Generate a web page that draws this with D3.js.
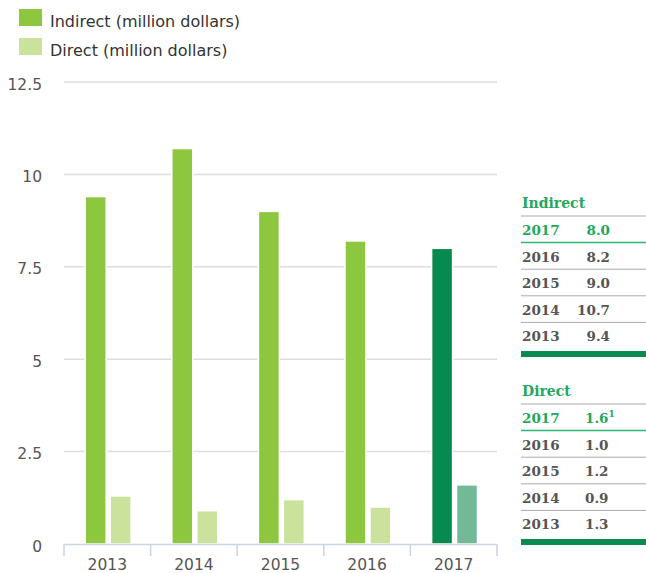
<!DOCTYPE html>
<html><head><meta charset="utf-8">
<script src="https://cdn.jsdelivr.net/npm/d3@7"></script>
<style>body{margin:0;background:#fff}svg{display:block}</style>
</head><body>
<svg id="c" width="646" height="573"></svg>
<script>
const years = ["2013","2014","2015","2016","2017"];
const indirect = [9.4, 10.7, 9.0, 8.2, 8.0];
const direct = [1.3, 0.9, 1.2, 1.0, 1.6];
const yTicks = [0, 2.5, 5, 7.5, 10, 12.5];
const seriesNames = ["Indirect (million dollars)", "Direct (million dollars)"];
const tableTitles = ["Indirect", "Direct"];

const svg = d3.select("#c");
const sans = "'DejaVu Sans', sans-serif";
const serif = "'DejaVu Serif', serif";
const cInd = "#8dc63f", cDir = "#cbe29d", cInd17 = "#078a4f", cDir17 = "#72b998";
const green = "#22a85d";

const x = d3.scaleBand().domain(years).range([64, 497]);
const bw = x.bandwidth();
const xs = d3.scaleBand().domain(["i","d"]).range([0.245*bw, 0.775*bw]).paddingInner(0.16);
const y = d3.scaleLinear().domain([0, 12.5]).range([544, 82]);

// gridlines
svg.append("g").selectAll("line").data(yTicks.filter(d=>d>0)).join("line")
  .attr("x1", 64).attr("x2", 497).attr("y1", d=>y(d)).attr("y2", d=>y(d))
  .attr("stroke", "#dddddd").attr("stroke-width", 1.5);

// y labels
svg.append("g").selectAll("text").data(yTicks).join("text")
  .attr("x", 42).attr("y", d=>y(d)+7.5).attr("text-anchor","end")
  .attr("font-family", sans).attr("font-size", 15.5).attr("fill","#555")
  .text(d=>d3.format("~g")(d));

// bars
const g = svg.append("g");
years.forEach((yr,i)=>{
  const last = i === years.length-1;
  g.append("rect").attr("x", x(yr)+xs("i")).attr("width", xs.bandwidth())
    .attr("y", y(indirect[i])).attr("height", y(0)-y(indirect[i]))
    .attr("fill", last?cInd17:cInd).attr("stroke","#fff").attr("stroke-width",1.5);
  g.append("rect").attr("x", x(yr)+xs("d")).attr("width", xs.bandwidth())
    .attr("y", y(direct[i])).attr("height", y(0)-y(direct[i]))
    .attr("fill", last?cDir17:cDir).attr("stroke","#fff").attr("stroke-width",1.5);
});

// x axis
const ax = svg.append("g");
ax.append("line").attr("x1",64).attr("x2",497).attr("y1",544.5).attr("y2",544.5)
  .attr("stroke","#c9d5e2").attr("stroke-width",1.5);
const bounds = years.map(d=>x(d)).concat([x(years[years.length-1])+bw]);
ax.selectAll("line.t").data(bounds).join("line").attr("class","t")
  .attr("x1",d=>d).attr("x2",d=>d).attr("y1",544).attr("y2",556)
  .attr("stroke","#c9d5e2").attr("stroke-width",1.5);
ax.selectAll("text").data(years).join("text")
  .attr("x", d=>x(d)+bw/2).attr("y", 570).attr("text-anchor","middle")
  .attr("font-family", sans).attr("font-size", 15.5).attr("fill","#555").text(d=>d);

// legend
const leg = svg.append("g");
[cInd, cDir].forEach((c,i)=>{
  leg.append("rect").attr("x",19).attr("y",9+i*29).attr("width",23).attr("height",17).attr("fill",c);
  leg.append("text").attr("x",50).attr("y",27+i*28.5).attr("font-family",sans)
    .attr("font-size",16).attr("fill","#333").text(seriesNames[i]);
});

// tables
function table(top, title, vals, align, sup){
  const t = svg.append("g").attr("font-family", serif).attr("font-weight","bold").attr("font-size",13.5);
  t.append("text").attr("x",522).attr("y",top).attr("fill",green).attr("font-size",14).text(title);
  const lineY0 = top+8, pitch = 26.6;
  t.append("line").attr("x1",521).attr("x2",646).attr("y1",lineY0).attr("y2",lineY0).attr("stroke","#aaa").attr("stroke-width",1);
  const order = years.map((d,i)=>i).reverse();
  order.forEach((idx,k)=>{
    const by = lineY0 + 19 + k*pitch;
    const col = k===0 ? green : "#555";
    t.append("text").attr("x",522).attr("y",by).attr("fill",col).text(years[idx]);
    const v = t.append("text").attr("y",by).attr("fill",col);
    if(align==="end") v.attr("x",610).attr("text-anchor","end");
    else v.attr("x",585);
    v.text(vals[idx].toFixed(1));
    if(k===0 && sup) v.append("tspan").attr("font-size",9).attr("dy",-6).text(sup);
    const ly = lineY0 + (k+1)*pitch;
    if(k < order.length-1){
      t.append("line").attr("x1",521).attr("x2",646).attr("y1",ly).attr("y2",ly)
        .attr("stroke", k===0 ? "#2bb673" : "#aaa").attr("stroke-width", k===0?1.5:1);
    } else {
      t.append("rect").attr("x",521).attr("y",ly+2).attr("width",125).attr("height",6).attr("fill","#0a8a50");
    }
  });
}
table(208, tableTitles[0], indirect, "end", null);
table(396, tableTitles[1], direct, "start", "1");
</script>
</body></html>
